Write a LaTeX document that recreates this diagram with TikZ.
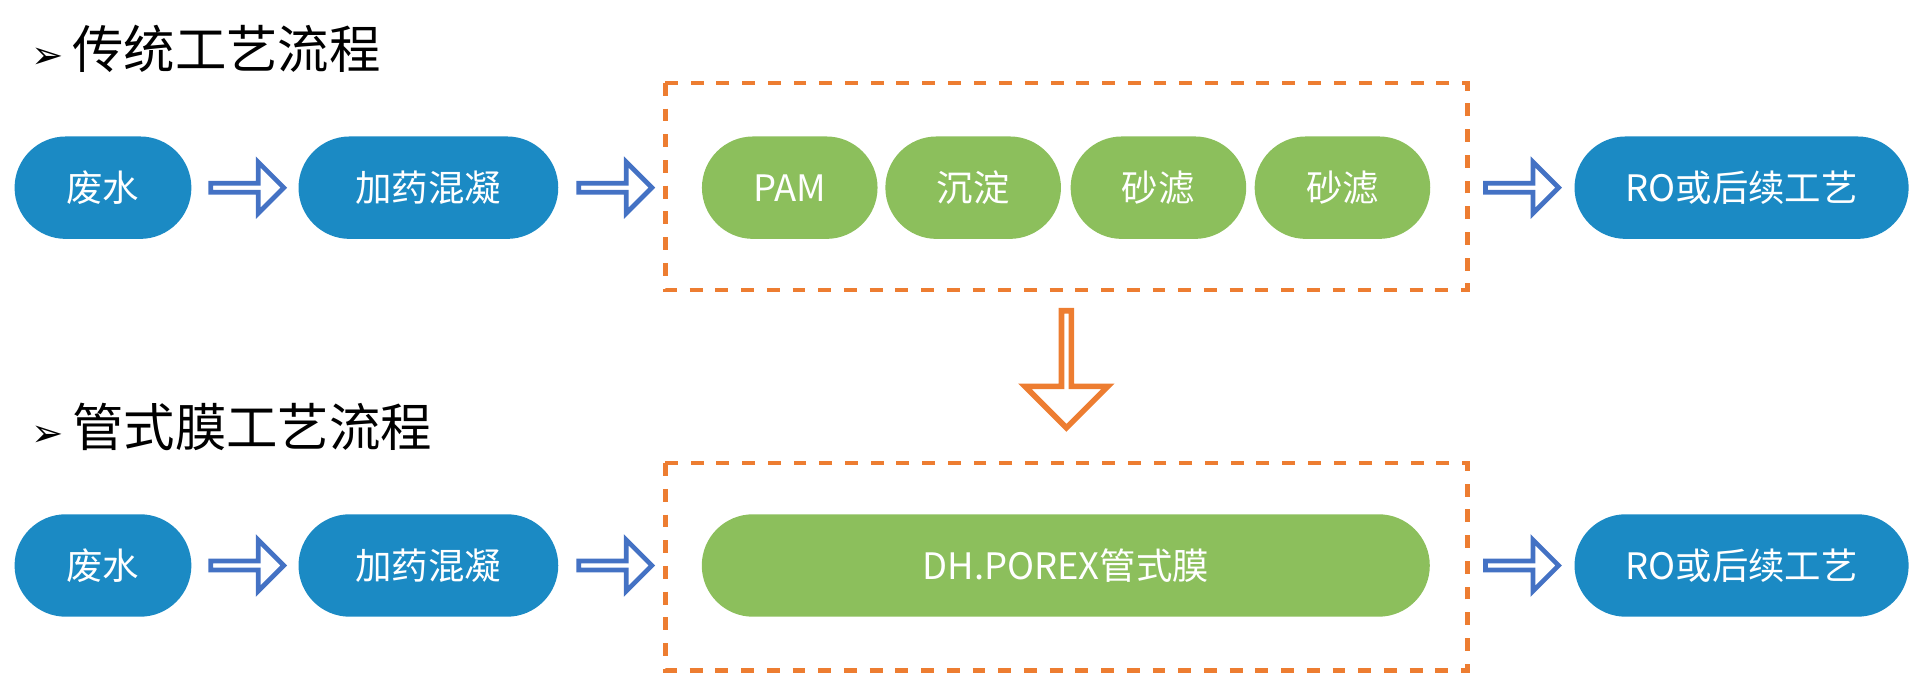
\documentclass[tikz,border=0pt]{standalone}
\usepackage{fontspec}
\setmainfont{Noto Sans CJK SC}
\newfontfamily\symfont{DejaVu Sans}
\usetikzlibrary{shapes.arrows}
\definecolor{boxblue}{HTML}{1B8AC4}
\definecolor{boxgreen}{HTML}{8CBF5C}
\definecolor{arrblue}{HTML}{4472C4}
\definecolor{arrorange}{HTML}{ED7D31}
\begin{document}
\begin{tikzpicture}[x=0.01cm,y=-0.01cm]
	\tikzstyle{BB}=[rounded corners=0.42cm,fill=boxblue,text=white,font=\fontsize{8.5}{10}\selectfont,minimum height=0.84cm,inner sep=0pt]
	\tikzstyle{GB}=[BB,fill=boxgreen]
	\tikzstyle{AR}=[single arrow,draw=arrblue,line width=1.1pt,minimum width=0.42cm,minimum height=0.6cm,single arrow head extend=0.09cm,inner sep=0pt]
	\tikzstyle{DR}=[draw=arrorange,dashed,line width=1.1pt]
	\tikzstyle{TT}=[anchor=west,font=\fontsize{12}{14}\selectfont,inner sep=0pt]
	\useasboundingbox (0,0) rectangle (1568,552);
	% titles
	\node[TT] (t1) at (25,40) {{\symfont\fontsize{9}{10}\selectfont ➢}\,传统工艺流程};
	\node[TT] (t2) at (25,350) {{\symfont\fontsize{9}{10}\selectfont ➢}\,管式膜工艺流程};
	% row 1
	\node[BB,minimum width=1.45cm] (w1) at (84.5,154) {废水};
	\node[BB,minimum width=2.13cm] (d1) at (351.5,154) {加药混凝};
	\node[GB,minimum width=1.44cm] (p1) at (648,154) {PAM};
	\node[GB,minimum width=1.44cm] (p2) at (798.5,154) {沉淀};
	\node[GB,minimum width=1.44cm] (p3) at (950.5,154) {砂滤};
	\node[GB,minimum width=1.44cm] (p4) at (1101.5,154) {砂滤};
	\node[BB,minimum width=2.74cm] (r1) at (1429,154) {RO或后续工艺};
	\draw[DR] (546,68) rectangle (1204,238);
	\node[AR] (a11) at (201,154) {};
	\node[AR] (a12) at (503,154) {};
	\node[AR] (a13) at (1247,154) {};
	% row 2
	\node[BB,minimum width=1.45cm] (w2) at (84.5,464) {废水};
	\node[BB,minimum width=2.13cm] (d2) at (351.5,464) {加药混凝};
	\node[GB,minimum width=5.97cm] (m2) at (874.5,464) {DH.POREX管式膜};
	\node[BB,minimum width=2.74cm] (r2) at (1429,464) {RO或后续工艺};
	\draw[DR] (546,380) rectangle (1204,550);
	\node[AR] (a21) at (201,464) {};
	\node[AR] (a22) at (503,464) {};
	\node[AR] (a23) at (1247,464) {};
	% big arrow
	\node[single arrow,draw=arrorange,line width=1.3pt,shape border rotate=270,minimum width=0.68cm,minimum height=0.96cm,single arrow head extend=0.17cm,inner sep=0pt] (down) at (875,301) {};
\end{tikzpicture}
\end{document}
